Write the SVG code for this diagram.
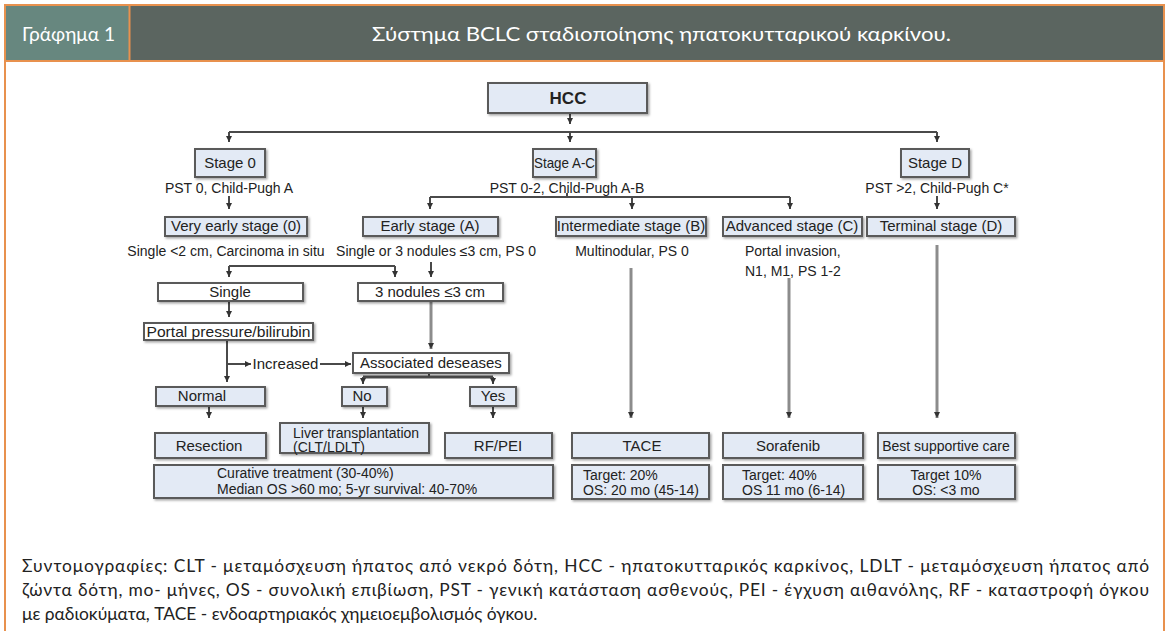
<svg xmlns="http://www.w3.org/2000/svg" width="1168" height="631" viewBox="0 0 1168 631">
<style>
.frame{fill:#fff;stroke:#e8914e;stroke-width:2}
.hdr{fill:#5b6560}
.tab{fill:#67877f}
.hline{stroke:#e8914e;stroke-width:2}
.ht{font-family:"Lato","Liberation Sans",sans-serif;font-size:20px;fill:#fff}
.b{fill:#e3eaf5;stroke:#5a5a5a;stroke-width:2;filter:url(#sh)}
.w{fill:#fff;stroke:#5a5a5a;stroke-width:2;filter:url(#sh)}
.t{font-family:"Liberation Sans",Arial,sans-serif;font-size:15px;fill:#222;text-anchor:middle}
.tl{font-family:"Liberation Sans",Arial,sans-serif;font-size:14px;fill:#222}
.d{font-family:"Liberation Sans",Arial,sans-serif;font-size:14px;fill:#222;text-anchor:middle}
.c{fill:none;stroke:#4a4a4a;stroke-width:2}
.ca{fill:none;stroke:#4a4a4a;stroke-width:2;marker-end:url(#ah)}
.g{fill:none;stroke:#8c8c8c;stroke-width:3;marker-end:url(#ah)}
.fn{font-family:"Lato","Liberation Sans",sans-serif;font-size:17.4px;fill:#222}
</style>
<defs>
<marker id="ah" markerUnits="userSpaceOnUse" markerWidth="7" markerHeight="7" refX="6" refY="3.5" orient="auto">
<path d="M0,0.5 L6,3.5 L0,6.5 z" fill="#333"/>
</marker>
<filter id="sh" x="-10%" y="-20%" width="130%" height="160%">
<feDropShadow dx="1.5" dy="1.5" stdDeviation="1" flood-color="#000" flood-opacity="0.35"/>
</filter>
</defs>
<rect class="frame" x="5" y="5" width="1159" height="640"/>
<g id="header">
<rect class="tab" x="6" y="6" width="123" height="55"/>
<rect class="hdr" x="129" y="6" width="1034" height="55"/>
<line class="hline" x1="5" y1="61" x2="1164" y2="61"/>
<line class="hline" x1="129.5" y1="6" x2="129.5" y2="61"/>
<text class="ht" x="22" y="41" textLength="93" lengthAdjust="spacingAndGlyphs">Γράφημα 1</text>
<text class="ht" x="372" y="41" textLength="579" lengthAdjust="spacingAndGlyphs">Σύστημα BCLC σταδιοποίησης ηπατοκυτταρικού καρκίνου.</text>
</g>
<g id="connectors">
<path class="ca" d="M570,113 V124"/>
<path class="c" d="M229,132 H937"/>
<path class="ca" d="M229,132 V142"/>
<path class="ca" d="M570,132 V142"/>
<path class="ca" d="M937,132 V142"/>
<path class="ca" d="M229,196 V209"/>
<path class="c" d="M567,193 V197"/>
<path class="c" d="M430,197 H790"/>
<path class="ca" d="M430,197 V209"/>
<path class="ca" d="M632,197 V209"/>
<path class="ca" d="M790,197 V209"/>
<path class="ca" d="M937,196 V209"/>
<path class="c" d="M229,266 H395"/>
<path class="ca" d="M229,266 V277"/>
<path class="ca" d="M395,266 V277"/>
<path class="ca" d="M431,262 V277"/>
<path class="ca" d="M229,302 V317"/>
<path class="g" d="M431,302 V349"/>
<path class="ca" d="M227,340 V382"/>
<path class="ca" d="M227,364 H251"/>
<path class="ca" d="M320,364 H351"/>
<path class="c" d="M429,373 V377"/>
<path class="c" d="M363,377 H493" style="stroke-width:3"/>
<path class="ca" d="M363,377 V384"/>
<path class="ca" d="M493,377 V384"/>
<path class="ca" d="M209,406 V418"/>
<path class="ca" d="M363,407 V418"/>
<path class="ca" d="M493,407 V418"/>
<path class="g" d="M631,268 V418"/>
<path class="g" d="M789,278 V418"/>
<path class="g" d="M937,245 V418"/>
</g>
<g id="hcc"><rect class="b" x="488" y="83" width="159" height="30"/><text class="t" x="568" y="104" style="font-weight:bold;font-size:17px">HCC</text></g>
<g id="stage0"><rect class="b" x="195" y="149" width="70" height="28"/><text class="t" x="230" y="168">Stage 0</text></g>
<g id="stageAC"><rect class="b" x="533" y="149" width="63" height="28"/><text class="t" x="564.5" y="168" textLength="61" lengthAdjust="spacingAndGlyphs">Stage A-C</text></g>
<g id="stageD"><rect class="b" x="901" y="149" width="68" height="28"/><text class="t" x="935" y="168">Stage D</text></g>
<text class="d" x="229" y="193">PST 0, Child-Pugh A</text>
<text class="d" x="567" y="193">PST 0-2, Child-Pugh A-B</text>
<text class="d" x="937" y="193">PST &gt;2, Child-Pugh C*</text>
<g id="veryearly"><rect class="b" x="165" y="217" width="142" height="19"/><text class="t" x="236" y="231">Very early stage (0)</text></g>
<g id="early"><rect class="b" x="363" y="217" width="135" height="19"/><text class="t" x="430" y="231">Early stage (A)</text></g>
<g id="intermediate"><rect class="b" x="556" y="217" width="150" height="19"/><text class="t" x="631" y="231">Intermediate stage (B)</text></g>
<g id="advanced"><rect class="b" x="723" y="217" width="139" height="19"/><text class="t" x="792" y="231">Advanced stage (C)</text></g>
<g id="terminal"><rect class="b" x="867" y="217" width="148" height="19"/><text class="t" x="941" y="231">Terminal stage (D)</text></g>
<text class="d" x="226" y="256">Single &lt;2 cm, Carcinoma in situ</text>
<text class="d" x="436" y="256">Single or 3 nodules ≤3 cm, PS 0</text>
<text class="d" x="632" y="256">Multinodular, PS 0</text>
<text class="tl" x="745" y="256">Portal invasion,</text>
<text class="tl" x="745" y="276">N1, M1, PS 1-2</text>
<g id="single"><rect class="w" x="158" y="283" width="145" height="18"/><text class="t" x="230" y="297">Single</text></g>
<g id="nodules"><rect class="w" x="358" y="283" width="145" height="18"/><text class="t" x="430" y="297">3 nodules ≤3 cm</text></g>
<g id="portal"><rect class="w" x="144" y="323" width="169" height="17"/><text class="t" x="228.5" y="337" textLength="164" lengthAdjust="spacingAndGlyphs">Portal pressure/bilirubin</text></g>
<text class="d" x="285.5" y="369" style="font-size:15px">Increased</text>
<g id="assoc"><rect class="w" x="353" y="353" width="156" height="20"/><text class="t" x="431" y="368">Associated deseases</text></g>
<g id="normal"><rect class="b" x="156" y="387" width="109" height="19"/><text class="t" x="202" y="401">Normal</text></g>
<g id="no"><rect class="b" x="342" y="387" width="45" height="19"/><text class="t" x="362" y="401">No</text></g>
<g id="yes"><rect class="b" x="470" y="387" width="46" height="19"/><text class="t" x="493" y="401">Yes</text></g>
<g id="resection"><rect class="b" x="155" y="433" width="111" height="25"/><text class="t" x="209" y="451">Resection</text></g>
<g id="liver"><rect class="b" x="280" y="423" width="149" height="30"/><text class="tl" x="293" y="438">Liver transplantation</text><text class="tl" x="293" y="452">(CLT/LDLT)</text></g>
<g id="rfpei"><rect class="b" x="445" y="433" width="107" height="25"/><text class="t" x="498" y="451">RF/PEI</text></g>
<g id="curative"><rect class="b" x="154" y="465" width="399" height="33"/><text class="tl" x="217" y="478">Curative treatment (30-40%)</text><text class="tl" x="217" y="494">Median OS &gt;60 mo; 5-yr survival: 40-70%</text></g>
<g id="tace"><rect class="b" x="572" y="433" width="137" height="25"/><text class="t" x="642" y="451">TACE</text></g>
<g id="sorafenib"><rect class="b" x="723" y="433" width="140" height="25"/><text class="t" x="788" y="451">Sorafenib</text></g>
<g id="bsc"><rect class="b" x="878" y="433" width="137" height="25"/><text class="t" x="946" y="451" style="font-size:14px">Best supportive care</text></g>
<g id="tacet"><rect class="b" x="572" y="465" width="137" height="34"/><text class="tl" x="583" y="480">Target: 20%</text><text class="tl" x="583" y="495">OS: 20 mo (45-14)</text></g>
<g id="sorat"><rect class="b" x="723" y="465" width="140" height="34"/><text class="tl" x="742" y="480">Target: 40%</text><text class="tl" x="742" y="495">OS 11 mo (6-14)</text></g>
<g id="bsct"><rect class="b" x="878" y="465" width="137" height="34"/><text class="d" x="946" y="480">Target 10%</text><text class="d" x="946" y="495">OS: &lt;3 mo</text></g>
<g id="footnote">
<text class="fn" x="22" y="572" textLength="1127" lengthAdjust="spacing">Συντομογραφίες: CLT - μεταμόσχευση ήπατος από νεκρό δότη, HCC - ηπατοκυτταρικός καρκίνος, LDLT - μεταμόσχευση ήπατος από</text>
<text class="fn" x="22" y="596" textLength="1127" lengthAdjust="spacing">ζώντα δότη, mo- μήνες, OS - συνολική επιβίωση, PST - γενική κατάσταση ασθενούς,  PEI - έγχυση αιθανόλης, RF - καταστροφή όγκου</text>
<text class="fn" x="22" y="620">με ραδιοκύματα, TACE - ενδοαρτηριακός  χημειοεμβολισμός όγκου.</text>
</g>
</svg>
